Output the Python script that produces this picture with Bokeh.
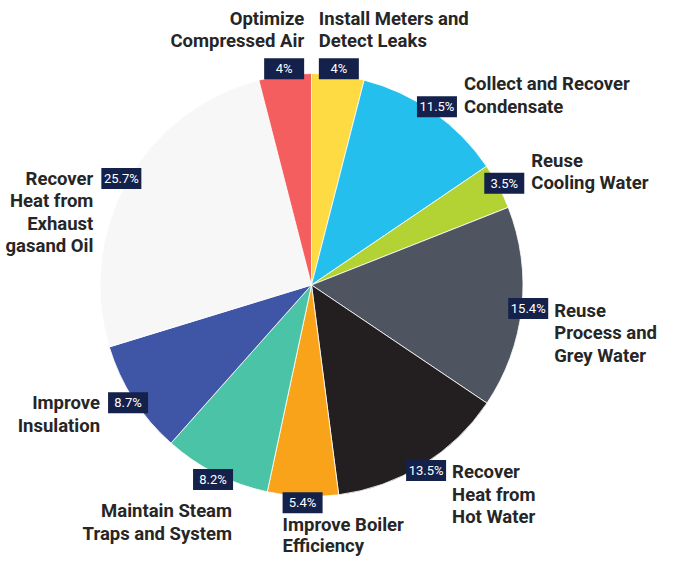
import math
from bokeh.plotting import figure
from bokeh.models import ColumnDataSource, Range1d
from bokeh.core.properties import value
from bokeh.embed import file_html
from bokeh.resources import INLINE

# ---- data (clockwise from 12 o'clock) ----
categories = [
    ["Install Meters and", "Detect Leaks"],
    ["Collect and Recover", "Condensate"],
    ["Reuse", "Cooling Water"],
    ["Reuse", "Process and", "Grey Water"],
    ["Recover", "Heat from", "Hot Water"],
    ["Improve Boiler", "Efficiency"],
    ["Maintain Steam", "Traps and System"],
    ["Improve", "Insulation"],
    ["Recover", "Heat from", "Exhaust", "gasand Oil"],
    ["Optimize", "Compressed Air"],
]
shares = [4, 11.5, 3.5, 15.4, 13.5, 5.4, 8.2, 8.7, 25.7, 4]
colors = ["#FEDB43", "#25BFED", "#B3D335", "#4F5560", "#231F20",
          "#F9A31B", "#4AC3A6", "#3F55A5", "#F7F7F7", "#F45E5E"]

# ---- layout (styling only) ----
label_modes = ["above_left", "right_up", "right_up", "right_down", "right_down",
               "below_left", "below_right", "left_down", "left_down", "above_right"]
FONT = "Roboto"
R = 211.5
R_LABEL = 218
BW, BH = 40, 21
LH = 22.5
TEXT_DY = 6          # renderer draws alphabetic baseline this much lower
TEXT_COLOR = "#262626"
BOX_COLOR = "#14214B"

W, H = 659, 557
CX, CY = 311, 284.5               # pie centre in figure pixels
X0, Y0 = -CX, CY - H              # 1 data unit = 1 px
BOTTOM_LIMIT = Y0 + 6             # lowest allowed baseline (data units)

total = sum(shares)
starts, ends, bx, by, pct = [], [], [], [], []
cum = 0.0
for v in shares:
    a0 = math.pi / 2 - 2 * math.pi * cum / total
    a1 = math.pi / 2 - 2 * math.pi * (cum + v) / total
    starts.append(a0)
    ends.append(a1)
    mid = 2 * math.pi * (cum + v / 2) / total  # clockwise from top
    bx.append(R_LABEL * math.sin(mid))
    by.append(R_LABEL * math.cos(mid))
    pct.append(f"{v:g}%")
    cum += v

pie_src = ColumnDataSource(dict(start=starts, end=ends, color=colors))
box_src = ColumnDataSource(dict(x=bx, y=by, t=pct))

lx, ly, lt, la = [], [], [], []
for lines, mode, x0, y0 in zip(categories, label_modes, bx, by):
    n = len(lines)
    if mode in ("above_left", "above_right"):
        x = x0 - BW / 2 if mode == "above_left" else x0 + BW / 2
        align = "left" if mode == "above_left" else "right"
        base = y0 + BH / 2 + 11
        ys = [base + (n - 1 - i) * LH for i in range(n)]
    elif mode == "right_up":
        x, align = x0 + BW / 2 + 7, "left"
        base = y0 - 6
        ys = [base + (n - 1 - i) * LH for i in range(n)]
    elif mode == "right_down":
        x, align = x0 + BW / 2 + 6, "left"
        ys = [y0 - 8 - i * LH for i in range(n)]
    elif mode == "left_down":
        x, align = x0 - BW / 2 - 8, "right"
        ys = [y0 - 6.5 - i * LH for i in range(n)]
    else:  # below
        x = x0 - BW / 2 if mode == "below_left" else x0 + BW / 2 - 1
        align = "left" if mode == "below_left" else "right"
        box_bottom = y0 - BH / 2
        first = box_bottom - 27
        step = LH
        last = first - (n - 1) * step
        if last < BOTTOM_LIMIT:
            last = BOTTOM_LIMIT
            first = min(box_bottom - 18, last + (n - 1) * LH)
            step = (first - last) / (n - 1) if n > 1 else 0
        ys = [first - i * step for i in range(n)]
    for line, yy in zip(lines, ys):
        lx.append(x)
        ly.append(yy + TEXT_DY)
        lt.append(line)
        la.append(align)
lab_src = ColumnDataSource(dict(x=lx, y=ly, t=lt, a=la))

p = figure(width=W, height=H, output_backend="svg", toolbar_location=None,
           x_range=Range1d(X0, X0 + W), y_range=Range1d(Y0, Y0 + H),
           min_border=0, background_fill_color="white", border_fill_color="white")
p.axis.visible = False
p.grid.visible = False
p.outline_line_color = None

p.wedge(x=0, y=0, radius=R, start_angle="start", end_angle="end", direction="clock",
        fill_color="color", line_color="white", line_width=0.8, source=pie_src)

p.rect(x="x", y="y", width=BW, height=BH, fill_color=BOX_COLOR, line_color=None, source=box_src)
p.text(x="x", y="y", text="t", text_align="center", text_baseline="middle",
       text_color="white", text_font=value(FONT), text_font_size="13px", source=box_src)

p.text(x="x", y="y", text="t", text_align="a", text_baseline="alphabetic",
       text_color=TEXT_COLOR, text_font=value(FONT), text_font_size="18.5px",
       text_font_style="bold", source=lab_src)

open("out.html", "w").write(file_html(p, INLINE))
